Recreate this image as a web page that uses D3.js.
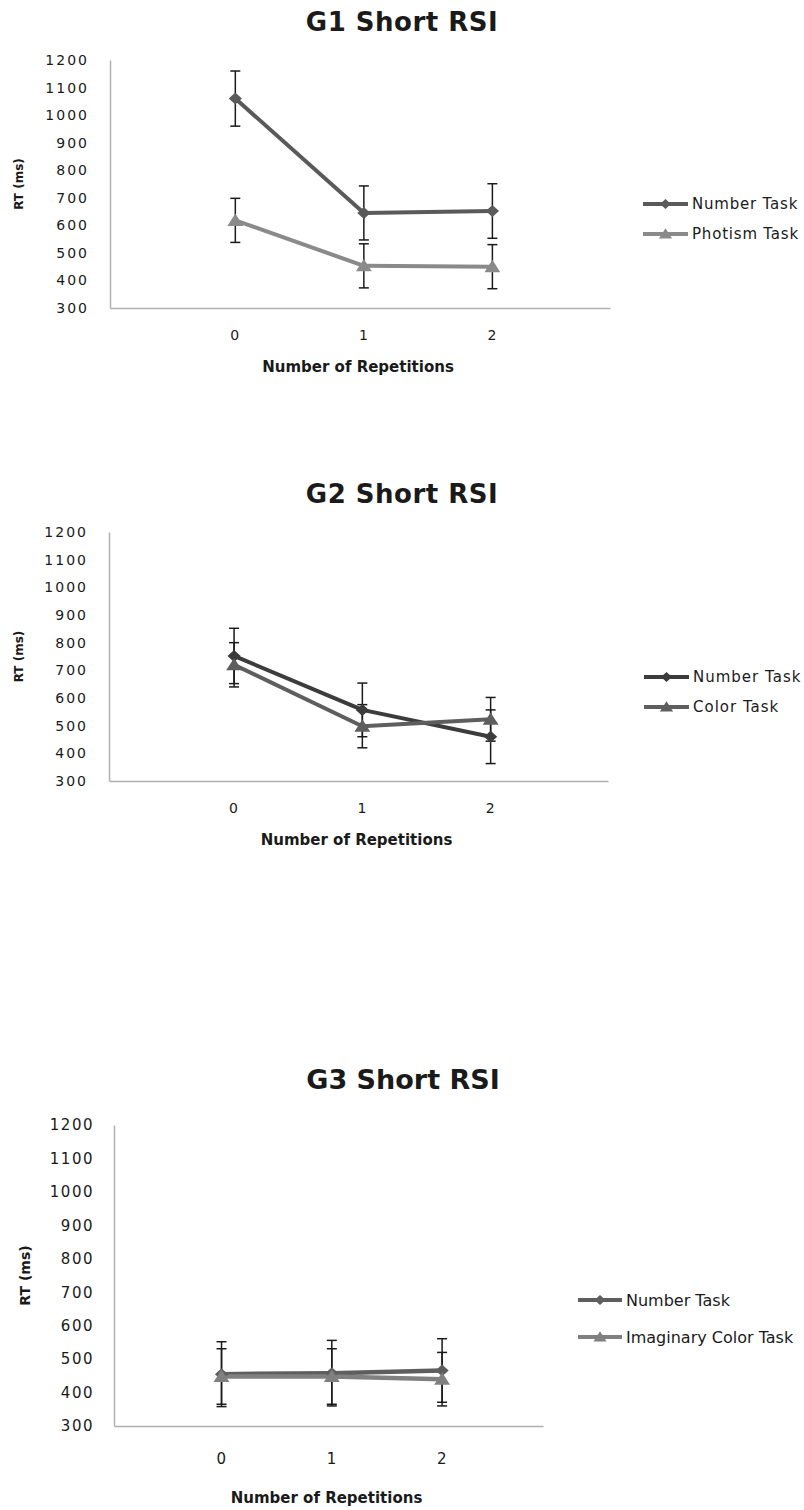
<!DOCTYPE html>
<html>
<head>
<meta charset="utf-8">
<script src="https://cdn.jsdelivr.net/npm/d3@7"></script>
<style>
  body { margin: 0; background: white; }
  text { font-family: "DejaVu Sans", sans-serif; fill: #1a1a1a; }
</style>
</head>
<body>
<div id="charts"></div>
<script>
let width = 804, height = 1510;

// data
const reps = [0, 1, 2];
const yTicks = [300, 400, 500, 600, 700, 800, 900, 1000, 1100, 1200];

const g1Number = [1060, 645, 652];
const g1NumberErr = [100, 98, 99];
const g1Photism = [618, 453, 450];
const g1PhotismErr = [80, 80, 80];

const g2Number = [752, 557, 460];
const g2NumberErr = [100, 97, 97];
const g2Color = [720, 498, 523];
const g2ColorErr = [80, 78, 79];

const g3Number = [455, 458, 466];
const g3NumberErr = [97, 98, 95];
const g3Imaginary = [448, 448, 440];
const g3ImaginaryErr = [83, 83, 80];

let panels = [
  {
    title: 'G1 Short RSI',
    series: [
      { name: 'Number Task', values: g1Number, err: g1NumberErr, color: '#5a5a5a', shape: 'diamond' },
      { name: 'Photism Task', values: g1Photism, err: g1PhotismErr, color: '#8a8a8a', shape: 'triangle' }
    ],
    left: 110, right: 610, top: 60, bottom: 308,
    titleX: 402, titleY: 31, titleSize: 26, titleSpacing: 0.5,
    tickSize: 14, tickSpacing: 2, yPad: 21, xPad: 22,
    xTitleY: 372, xTitleSize: 15, yTitleX: 19, yTitleSize: 12,
    legend: { x0: 643, x1: 688, tx: 692, rows: [204, 234], size: 15, spacing: 0.8 },
    lineWidth: 4
  },
  {
    title: 'G2 Short RSI',
    series: [
      { name: 'Number Task', values: g2Number, err: g2NumberErr, color: '#3c3c3c', shape: 'diamond' },
      { name: 'Color Task', values: g2Color, err: g2ColorErr, color: '#5e5e5e', shape: 'triangle' }
    ],
    left: 109, right: 608, top: 532, bottom: 781,
    titleX: 402, titleY: 503, titleSize: 26, titleSpacing: 0.5,
    tickSize: 14, tickSpacing: 2, yPad: 21, xPad: 22,
    xTitleY: 845, xTitleSize: 15, yTitleX: 19, yTitleSize: 12,
    legend: { x0: 644, x1: 689, tx: 693, rows: [677, 707], size: 15, spacing: 1 },
    lineWidth: 4
  },
  {
    title: 'G3 Short RSI',
    series: [
      { name: 'Number Task', values: g3Number, err: g3NumberErr, color: '#5e5e5e', shape: 'diamond' },
      { name: 'Imaginary Color Task', values: g3Imaginary, err: g3ImaginaryErr, color: '#808080', shape: 'triangle' }
    ],
    left: 114, right: 543, top: 1125, bottom: 1426,
    titleX: 403, titleY: 1089, titleSize: 27, titleSpacing: 0,
    tickSize: 15, tickSpacing: 1.5, yPad: 20, xPad: 27,
    xTitleY: 1503, xTitleSize: 15, yTitleX: 25, yTitleSize: 14,
    legend: { x0: 578, x1: 622, tx: 626, rows: [1300, 1337], size: 16, spacing: 0 },
    lineWidth: 4.5
  }
];

let svg = d3.select('#charts')
  .append('svg')
  .attr('width', width)
  .attr('height', height)
  .style('background', 'white');

function marker(shape, r) {
  if (shape === 'diamond') return `M0,${-r}L${r * 1.1},0L0,${r}L${-r * 1.1},0Z`;
  r = r * 1.15;
  return `M0,${-r}L${r * 1.15},${r * 0.8}L${-r * 1.15},${r * 0.8}Z`;
}

panels.forEach(p => {
  let g = svg.append('g');

  let xscale = d3.scaleLinear()
    .domain([-0.975, 2.915])
    .range([p.left, p.right]);

  let yscale = d3.scaleLinear()
    .domain([300, 1200])
    .range([p.bottom, p.top]);

  // axes: plain grey lines, no tick marks
  let yAxis = g.append('g')
    .attr('transform', `translate(${p.left}, 0)`)
    .call(d3.axisLeft(yscale).tickValues(yTicks).tickSize(0).tickPadding(p.yPad).tickFormat(d3.format('d')));

  let xAxis = g.append('g')
    .attr('transform', `translate(0, ${p.bottom})`)
    .call(d3.axisBottom(xscale).tickValues(reps).tickSize(0).tickPadding(p.xPad).tickFormat(d3.format('d')));

  [yAxis, xAxis].forEach(a => {
    a.select('.domain').attr('stroke', '#b0b0b0').attr('stroke-width', 1.5);
    a.selectAll('text')
      .style('font-family', '"DejaVu Sans", sans-serif')
      .style('font-size', p.tickSize + 'px')
      .style('letter-spacing', p.tickSpacing + 'px')
      .attr('fill', '#1a1a1a');
  });

  g.append('text')
    .text(p.title)
    .attr('x', p.titleX)
    .attr('y', p.titleY)
    .attr('text-anchor', 'middle')
    .style('font-size', p.titleSize + 'px')
    .style('font-weight', 'bold')
    .style('letter-spacing', p.titleSpacing + 'px');

  g.append('text')
    .text('Number of Repetitions')
    .attr('x', (p.left + p.right) / 2 - 2)
    .attr('y', p.xTitleY)
    .attr('text-anchor', 'middle')
    .style('font-size', p.xTitleSize + 'px')
    .style('font-weight', 'bold');

  g.append('text')
    .text('RT (ms)')
    .attr('transform', `translate(${p.yTitleX}, ${(p.top + p.bottom) / 2}) rotate(-90)`)
    .attr('text-anchor', 'middle')
    .attr('dy', '0.35em')
    .style('font-size', p.yTitleSize + 'px')
    .style('font-weight', 'bold');

  let line = d3.line()
    .x((d, i) => xscale(reps[i]))
    .y(d => yscale(d));

  // lines first, error bars over them, markers on top
  p.series.forEach(s => {
    g.append('path')
      .attr('d', line(s.values))
      .attr('fill', 'none')
      .attr('stroke', s.color)
      .attr('stroke-width', p.lineWidth)
      .attr('stroke-linejoin', 'round');
  });

  p.series.forEach(s => {
    let eb = g.append('g').attr('stroke', '#1a1a1a').attr('stroke-width', 1.5);
    s.values.forEach((v, i) => {
      let cx = xscale(reps[i]);
      let y0 = yscale(v - s.err[i]), y1 = yscale(v + s.err[i]);
      eb.append('line').attr('x1', cx).attr('x2', cx).attr('y1', y0).attr('y2', y1);
      eb.append('line').attr('x1', cx - 5).attr('x2', cx + 5).attr('y1', y0).attr('y2', y0);
      eb.append('line').attr('x1', cx - 5).attr('x2', cx + 5).attr('y1', y1).attr('y2', y1);
    });
  });

  p.series.forEach(s => {
    g.selectAll(null)
      .data(s.values)
      .enter()
      .append('path')
      .attr('d', marker(s.shape, 6))
      .attr('transform', (d, i) => `translate(${xscale(reps[i])}, ${yscale(d)})`)
      .attr('fill', s.color);
  });

  // legend
  p.series.forEach((s, i) => {
    let ly = p.legend.rows[i];
    g.append('line')
      .attr('x1', p.legend.x0).attr('x2', p.legend.x1)
      .attr('y1', ly).attr('y2', ly)
      .attr('stroke', s.color)
      .attr('stroke-width', 4);
    g.append('path')
      .attr('d', marker(s.shape, 5))
      .attr('transform', `translate(${(p.legend.x0 + p.legend.x1) / 2}, ${ly})`)
      .attr('fill', s.color);
    g.append('text')
      .text(s.name)
      .attr('x', p.legend.tx)
      .attr('y', ly)
      .attr('dy', '0.35em')
      .style('font-size', p.legend.size + 'px')
      .style('letter-spacing', p.legend.spacing + 'px');
  });
});
</script>
</body>
</html>
